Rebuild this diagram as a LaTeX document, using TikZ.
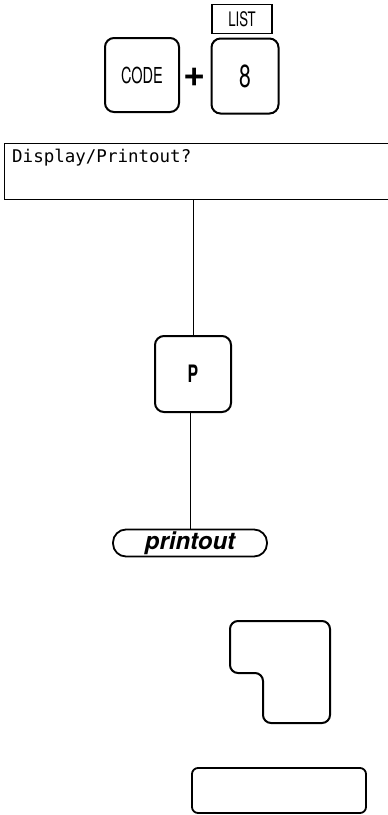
\documentclass[tikz,border=0pt]{standalone}
\usepackage{fontspec}
\setmainfont{TeX Gyre Heros}
\newfontfamily\keyfont[FakeStretch=0.66]{TeX Gyre Heros}
\newfontfamily\lcdfont{DejaVu Sans Mono}
\usetikzlibrary{positioning,calc}

\begin{document}
\begin{tikzpicture}[x=1pt,y=-1pt,
    key/.style={draw,line width=2pt,rounded corners=9pt,inner sep=0pt,
                font=\keyfont\fontsize{22}{24}\selectfont},
    label/.style={draw,line width=1.5pt,inner sep=0pt,minimum width=60pt,
                  minimum height=29pt,font=\keyfont\fontsize{20}{22}\selectfont},
    wire/.style={line width=1pt},
    oval/.style={draw,line width=1.8pt,rounded corners=13pt,inner sep=0pt,
                 minimum width=154pt,minimum height=27pt,
                 font=\bfseries\itshape\fontsize{24}{26}\selectfont}]
  \useasboundingbox (0,0) rectangle (388,815);

  % key sequence
  \node[key,minimum width=74pt,minimum height=74pt] (code) at (142,75) {CODE};
  \node[font=\bfseries\fontsize{38}{38}\selectfont,inner sep=0pt] (plus) at (195,77) {+};
  \node[key,minimum width=67pt,minimum height=75pt,
        font=\keyfont\fontsize{32}{34}\selectfont] (eight) at (245,76) {8};
  \node[label] (list) at (242,19) {LIST};

  % display line
  \node[minimum width=383pt,minimum height=55pt,inner sep=0pt] (display) at (196.5,171.5) {};
  \draw[line width=1pt] (display.north east) -- (display.north west)
      -- (display.south west) -- (display.south east);
  \node[font=\lcdfont\fontsize{17.5}{19}\selectfont,anchor=north west,inner sep=0pt]
      (prompt) at (12,149) {Display/Printout?};

  \node[key,minimum width=76pt,minimum height=76pt] (pkey) at (193,374)
      {\fontsize{24}{26}\selectfont\bfseries P};
  \node[oval] (printout) at (190,543) {printout};

  \draw[wire] (pkey.north) -- (pkey.north |- display.south);
  \draw[wire] (printout.north |- pkey.south) -- (printout.north);

  % empty keys
  \draw[line width=2pt,rounded corners=8pt]
      (230,621) -- (330,621) -- (330,723) -- (263,723) -- (263,673)
      -- (230,673) -- cycle;
  \node[draw,line width=1.8pt,rounded corners=6pt,minimum width=174pt,
        minimum height=45pt] (blank) at (279,790.5) {};
\end{tikzpicture}
\end{document}
